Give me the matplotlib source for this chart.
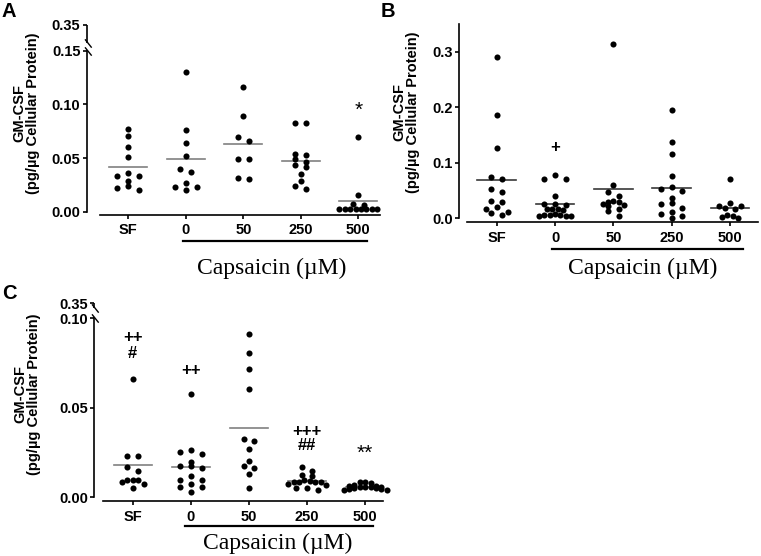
import numpy as np
import matplotlib
matplotlib.use("Agg")
import matplotlib.pyplot as plt

plt.rcParams['font.family'] = ['Liberation Sans', 'DejaVu Sans']
plt.rcParams['font.weight'] = 'bold'

groups = ['SF', '0', '50', '250', '500']

# panel A values (pg/ug cellular protein)
a_sf = [0.0767, 0.0708, 0.0605, 0.0506, 0.0363, 0.0335, 0.0332, 0.0289, 0.0242, 0.0223, 0.0205]
a_0 = [0.1301, 0.0761, 0.0643, 0.0519, 0.0395, 0.0372, 0.0270, 0.0230, 0.0230, 0.0199]
a_50 = [0.1161, 0.0888, 0.0693, 0.0661, 0.0494, 0.0494, 0.0311, 0.0308]
a_250 = [0.0829, 0.0829, 0.0540, 0.0525, 0.0491, 0.0460, 0.0432, 0.0416, 0.0348, 0.0289, 0.0236, 0.0208]
a_500 = [0.0693, 0.0155, 0.0070, 0.0065, 0.0022, 0.0022, 0.0022, 0.0022, 0.0022, 0.0022, 0.0022, 0.0022]
a_means = [0.0416, 0.0494, 0.0627, 0.0469, 0.0102]

# panel B
b_sf = [0.290, 0.186, 0.127, 0.075, 0.070, 0.052, 0.048, 0.032, 0.029, 0.020, 0.017, 0.012, 0.010, 0.0065]
b_0 = [0.0786, 0.0708, 0.0708, 0.040, 0.026, 0.025, 0.024, 0.017, 0.016, 0.016, 0.015,
       0.007, 0.006, 0.006, 0.006, 0.005, 0.005, 0.004]
b_50 = [0.314, 0.0606, 0.047, 0.040, 0.032, 0.029, 0.029, 0.026, 0.024, 0.023, 0.017, 0.013, 0.005]
b_250 = [0.196, 0.138, 0.115, 0.076, 0.056, 0.052, 0.049, 0.036, 0.027, 0.025, 0.019, 0.012, 0.008, 0.005, 0.001]
b_500 = [0.071, 0.027, 0.023, 0.022, 0.018, 0.017, 0.006, 0.004, 0.003, 0.000]
b_means = [0.0696, 0.0258, 0.052, 0.0546, 0.019]

# panel C
c_sf = [0.0661, 0.0232, 0.0232, 0.0168, 0.0147, 0.0095, 0.0095, 0.0095, 0.0087, 0.0074, 0.0054]
c_0 = [0.0577, 0.0262, 0.0255, 0.0240, 0.0199, 0.0173, 0.0173, 0.0162, 0.0119, 0.0098, 0.0098,
       0.0076, 0.0056, 0.0056, 0.0031]
c_50 = [0.0912, 0.0806, 0.0715, 0.0603, 0.0324, 0.0315, 0.0268, 0.0203, 0.0177, 0.0165, 0.0128, 0.0050]
c_250 = [0.0168, 0.0145, 0.0125, 0.0118, 0.0095, 0.0090, 0.0088, 0.0088, 0.0088, 0.0088,
         0.0072, 0.0070, 0.0050, 0.0050, 0.0042]
c_500 = [0.0085, 0.0085, 0.0078, 0.0070, 0.0065, 0.0062, 0.0060, 0.0058, 0.0055, 0.0055,
         0.0052, 0.0050, 0.0048, 0.0045, 0.0040, 0.0038]
c_means = [0.0179, 0.0171, 0.0389, 0.0093, 0.0060]

# significance marks: (group index, y, text)
a_marks = [(4, 0.094, '*')]
b_marks = [(1, 0.127, '+')]
c_marks = [(0, 0.0894, '++'), (0, 0.0804, '#'), (1, 0.0711, '++'),
           (3, 0.0366, '+++'), (3, 0.0288, '##'), (4, 0.0245, '**')]

W, H = 761, 556
fig = plt.figure(figsize=(W / 100, H / 100), dpi=100)


def px_axes(left, right, top, bottom):
    return fig.add_axes([left / W, 1 - bottom / H, (right - left) / W, (bottom - top) / H])


def broken(b, k):
    def fwd(y):
        y = np.asarray(y, dtype=float)
        return np.where(y <= b, y, b + (y - b) * k)

    def inv(y):
        y = np.asarray(y, dtype=float)
        return np.where(y <= b, y, b + (y - b) / k)
    return fwd, inv


def swarm(ax, vals, x0, row_px=4.5, dot_px=5.4):
    vals = np.asarray(vals, dtype=float)
    py = ax.transData.transform(np.column_stack([np.full(len(vals), x0), vals]))[:, 1]
    px_per_x = ax.transData.transform([[1, 0]])[0, 0] - ax.transData.transform([[0, 0]])[0, 0]
    order = np.argsort(-vals, kind='stable')
    rows, cur, start = [], [], 0
    for i in order:
        if cur and start - py[i] > row_px:
            rows.append(cur)
            cur = []
        if not cur:
            start = py[i]
        cur.append(i)
    rows.append(cur)
    xs = np.full(len(vals), float(x0))
    for row in rows:
        n = len(row)
        sp = 2 * dot_px if n <= 3 else dot_px
        if n % 2:
            slots = [0] + [s for j in range(1, n) for s in (-j, j)]
        else:
            slots = [s for j in range(n) for s in (-(j + 0.5), j + 0.5)]
        for i, s in zip(row, slots[:n]):
            xs[i] = x0 + s * sp / px_per_x
    return xs


def panel(ax, data, means, marks, xlim, xstart, yticks, ylabels, line_color,
          bar, text_y, brk=None, drop=3):
    ax.set_xlim(*xlim)
    if brk is not None:
        ax.set_yscale('function', functions=broken(brk[0], brk[1]))
    ax.set_ylim(0, 0.35)
    for sp in ['top', 'right']:
        ax.spines[sp].set_visible(False)
    for sp in ['left', 'bottom']:
        ax.spines[sp].set_linewidth(1.2)
    ax.spines['bottom'].set_position(('outward', drop))
    ax.spines['bottom'].set_bounds(xstart, xlim[1])
    ax.set_xticks(range(len(groups)))
    ax.set_xticklabels(groups)
    ax.set_yticks(yticks)
    ax.set_yticklabels(ylabels)
    ax.tick_params(axis='x', length=3, width=1.2, pad=3, labelsize=10.5)
    ax.tick_params(axis='y', length=3, width=1.2, pad=1.5, labelsize=10.5)
    for lab in ax.get_xticklabels() + ax.get_yticklabels():
        lab.set_fontweight('bold')

    for i, vals in enumerate(data):
        xs = swarm(ax, vals, i)
        ax.plot(xs, vals, 'o', color='black', markersize=4.4, markeredgewidth=0,
                clip_on=False, zorder=3)
        ax.plot([i - 0.33, i + 0.33], [means[i], means[i]], color=line_color,
                lw=1.2, zorder=2)
    for gi, y, t in marks:
        if '*' in t:
            ax.text(gi, y, t, ha='center', va='center', fontsize=15, fontweight='normal')
        else:
            ax.text(gi, y, t, ha='center', va='center', fontsize=12, fontweight='bold')

    if brk is not None:
        b, k, upper = brk
        x0 = xlim[0]
        ax.spines['left'].set_bounds(0, b)
        ax.plot([x0, x0], [upper, 0.35], color='black', lw=1.2, clip_on=False,
                solid_capstyle='butt')
        ax.plot([x0, x0], [b, upper], linestyle='none', marker=[(-0.6, 1), (1, -1)],
                markersize=6, markeredgewidth=1, color='black', clip_on=False)

    tr = ax.get_xaxis_transform()
    ax.plot([bar[0], bar[1]], [bar[2], bar[2]], color='black', lw=1.6,
            transform=tr, clip_on=False)
    ax.text(2.5, text_y, 'Capsaicin (\u00b5M)', transform=tr, ha='center', va='baseline',
            fontsize=17, fontweight='normal', family=['Liberation Serif', 'DejaVu Serif'])


ylab = 'GM-CSF\n(pg/\u00b5g Cellular Protein)'

# A
axA = px_axes(86.7, 380, 25, 211.7)
panel(axA, [a_sf, a_0, a_50, a_250, a_500], a_means, a_marks,
      (-0.723, 4.376), -0.49, [0, 0.05, 0.10, 0.15, 0.35],
      ['0.00', '0.05', '0.10', '0.15', '0.35'], '#808080',
      (0.95, 4.15, -0.155), -0.334, brk=(0.15, 0.1192, 0.209), drop=2.4)

# B
axB = px_axes(459, 758, 24.1, 218.3)
panel(axB, [b_sf, b_0, b_50, b_250, b_500], b_means, b_marks,
      (-0.647, 4.48), -0.504, [0, 0.1, 0.2, 0.3],
      ['0.0', '0.1', '0.2', '0.3'], '#383838',
      (0.943, 4.22, -0.16), -0.287, drop=3)

# C
axC = px_axes(94.3, 383, 303.3, 497.3)
panel(axC, [c_sf, c_0, c_50, c_250, c_500], c_means, c_marks,
      (-0.661, 4.308), -0.506, [0, 0.05, 0.10, 0.35],
      ['0.00', '0.05', '0.10', '0.35'], '#808080',
      (0.90, 4.14, -0.148), -0.265, brk=(0.10, 0.0335, 0.272), drop=3)

for x, y in [(26, 113), (406, 112), (27, 394)]:
    fig.text(x / W, 1 - y / H, ylab, rotation=90, ha='center', va='center',
             fontsize=10.5, fontweight='bold', linespacing=1.0, multialignment='center')

for x, y, t in [(1, 2, 'A'), (381, 2, 'B'), (2, 284, 'C')]:
    fig.text(x / W, 1 - y / H, t, ha='left', va='top', fontsize=14.5, fontweight='bold')

fig.savefig('out.png', dpi=100)
